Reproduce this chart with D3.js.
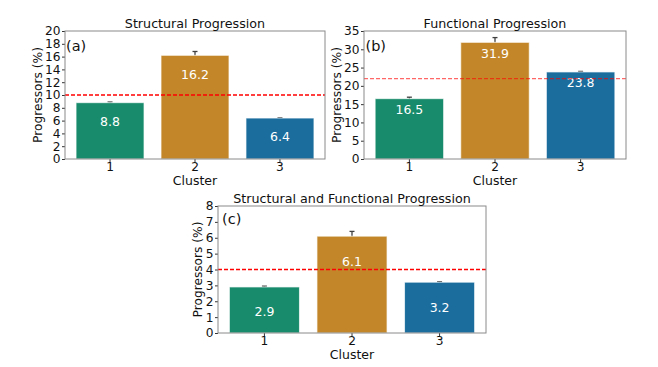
<!DOCTYPE html>
<html>
<head>
<meta charset="utf-8">
<script src="https://cdnjs.cloudflare.com/ajax/libs/d3/7.8.5/d3.min.js"></script>
<style>
  body { margin: 0; background: #fff; }
  text { font-family: "DejaVu Sans", sans-serif; }
</style>
</head>
<body>
<div id="chart"></div>
<script>
// data
var clusters = ["1", "2", "3"];
var structVals = [8.8, 16.2, 6.4];
var structErr = [0.1, 0.6, 0.05];
var funcVals = [16.5, 31.9, 23.8];
var funcErr = [0.4, 1.3, 0.15];
var bothVals = [2.9, 6.1, 3.2];
var bothErr = [0.05, 0.3, 0.03];
var refLines = [10, 22, 4];
var yMaxes = [20, 35, 8];
var yTickSteps = [2, 5, 1];
var titles = ["Structural Progression", "Functional Progression", "Structural and Functional Progression"];
var tags = ["(a)", "(b)", "(c)"];
var barColors = ["#178b6b", "#c3872a", "#1a6d9d"];

var svg = d3.select("#chart").append("svg")
  .attr("width", 658).attr("height", 367);

// panel boxes
var panels = [
  {x0: 65, x1: 325, y0: 31, y1: 159, vals: structVals, err: structErr, labelOff: 19, refOpacity: 1, ylab: 23, tagDx: 1, tagDy: 20},
  {x0: 364, x1: 626, y0: 31, y1: 159, vals: funcVals, err: funcErr, labelOff: 11, refOpacity: 0.6, ylab: 23, tagDx: 1.5, tagDy: 20},
  {x0: 218, x1: 486, y0: 206, y1: 333, vals: bothVals, err: bothErr, labelOff: 25, refOpacity: 1, ylab: 16, tagDx: 4, tagDy: 18}
];

panels.forEach(function(p, k){
  var g = svg.append("g");
  var x = d3.scaleBand().domain(clusters).range([p.x0, p.x1]).paddingInner(0.2).paddingOuter(0.13);
  var y = d3.scaleLinear().domain([0, yMaxes[k]]).range([p.y1, p.y0]);

  // error bars (behind the bars)
  var eb = g.selectAll(".eb").data(p.vals).enter().append("g");
  eb.append("line")
    .attr("x1", function(d, i){ return x(clusters[i]) + x.bandwidth() / 2; })
    .attr("x2", function(d, i){ return x(clusters[i]) + x.bandwidth() / 2; })
    .attr("y1", function(d, i){ return y(d - p.err[i]); })
    .attr("y2", function(d, i){ return y(d + p.err[i]); })
    .attr("stroke", "#404040").attr("stroke-width", 1.3);
  eb.append("line")
    .attr("x1", function(d, i){ return x(clusters[i]) + x.bandwidth() / 2 - 2.5; })
    .attr("x2", function(d, i){ return x(clusters[i]) + x.bandwidth() / 2 + 2.5; })
    .attr("y1", function(d, i){ return y(d + p.err[i]); })
    .attr("y2", function(d, i){ return y(d + p.err[i]); })
    .attr("stroke", "#404040").attr("stroke-width", 1.3);

  // bars
  g.selectAll(".bar").data(p.vals).enter().append("rect")
    .attr("x", function(d, i){ return x(clusters[i]); })
    .attr("width", x.bandwidth())
    .attr("y", function(d){ return y(d); })
    .attr("height", function(d){ return y(0) - y(d); })
    .attr("fill", function(d, i){ return barColors[i]; })
    .attr("stroke", "#ffffff").attr("stroke-opacity", 0.7).attr("stroke-width", 1);

  // value labels
  g.selectAll(".vl").data(p.vals).enter().append("text")
    .attr("x", function(d, i){ return x(clusters[i]) + x.bandwidth() / 2; })
    .attr("y", function(d){ return y(d) + p.labelOff; })
    .attr("dy", "0.35em")
    .attr("text-anchor", "middle")
    .attr("fill", "#fff").attr("font-size", 12.5)
    .text(function(d){ return d.toFixed(1); });

  // reference line
  g.append("line")
    .attr("x1", p.x0).attr("x2", p.x1)
    .attr("y1", y(refLines[k])).attr("y2", y(refLines[k]))
    .attr("stroke", "red").attr("stroke-opacity", p.refOpacity)
    .attr("stroke-width", 1.3).attr("stroke-dasharray", "4,2");

  // axes
  var ticks = d3.range(0, yMaxes[k] + 0.001, yTickSteps[k]);
  var yAxis = g.append("g").attr("transform", "translate(" + p.x0 + ",0)")
    .call(d3.axisLeft(y).tickValues(ticks).tickSize(3).tickPadding(1.5).tickFormat(d3.format("d")));
  var xAxis = g.append("g").attr("transform", "translate(0," + p.y1 + ")")
    .call(d3.axisBottom(x).tickSize(3).tickPadding(0));
  [yAxis, xAxis].forEach(function(a){
    a.select(".domain").remove();
    a.selectAll("line").attr("stroke", "#333");
    a.selectAll("text").attr("font-size", 12.2).attr("fill", "#111").style("font-family", "DejaVu Sans, sans-serif");
  });

  // frame
  g.append("rect")
    .attr("x", p.x0).attr("y", p.y0)
    .attr("width", p.x1 - p.x0).attr("height", p.y1 - p.y0)
    .attr("fill", "none").attr("stroke", "#8a8a8a").attr("stroke-width", 1);

  // titles and labels
  g.append("text")
    .attr("x", (p.x0 + p.x1) / 2).attr("y", p.y0 - 3.5)
    .attr("text-anchor", "middle").attr("font-size", 12.7).attr("fill", "#111")
    .text(titles[k]);
  g.append("text")
    .attr("x", p.x0 + p.tagDx).attr("y", p.y0 + p.tagDy)
    .attr("font-size", 14.5).attr("fill", "#111")
    .text(tags[k]);
  g.append("text")
    .attr("x", (p.x0 + p.x1) / 2).attr("y", p.y1 + 25.5)
    .attr("text-anchor", "middle").attr("font-size", 12.5).attr("fill", "#111")
    .text("Cluster");
  g.append("text")
    .attr("transform", "translate(" + (p.x0 - p.ylab) + "," + ((p.y0 + p.y1) / 2) + ") rotate(-90)")
    .attr("text-anchor", "middle").attr("font-size", 12.2).attr("fill", "#111")
    .text("Progressors (%)");
});
</script>
</body>
</html>
